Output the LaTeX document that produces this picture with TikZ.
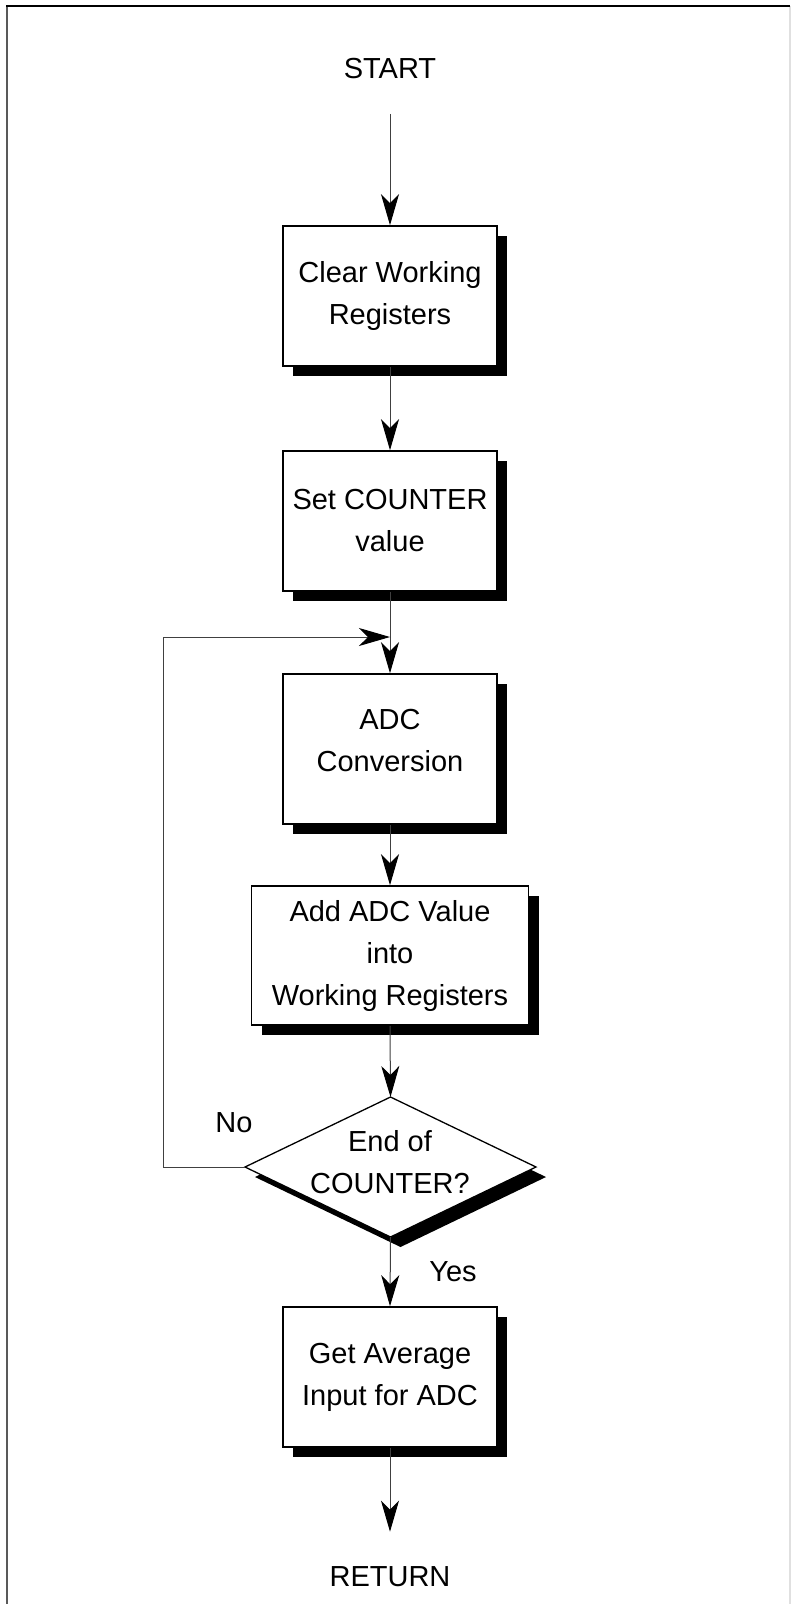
\documentclass[tikz,border=0pt]{standalone}
\usepackage{fontspec}
\setmainfont{Liberation Sans}
\usetikzlibrary{arrows.meta,shapes.geometric,shadows}
\begin{document}
\begin{tikzpicture}[x=1pt,y=-1pt,
  every node/.style={font=\fontsize{29}{42}\selectfont},
  boxshade/.style={drop shadow={shadow xshift=10pt, shadow yshift=-10pt, fill=black, opacity=1}},
  procbox/.style={draw=black, line width=1.6pt, fill=white, boxshade,
    minimum width=214pt, minimum height=140pt, inner sep=0pt, align=center},
  decision/.style={shape=diamond, draw=black, line width=1.3pt, fill=white, boxshade,
    minimum width=291pt, minimum height=140pt, inner sep=0pt, outer sep=0pt},
  lbl/.style={inner sep=0pt, align=center},
  flow/.style={draw=black!75, line width=1pt,
    -{Stealth[length=31pt, width=18pt, inset=9pt, black]}},
  plain/.style={draw=black!75, line width=1pt}
]
\useasboundingbox (0,0) rectangle (791,1604);

% page frame
\draw[black!65, line width=2pt] (7,5) -- (7,1604);
\draw[black!12, line width=1.5pt] (790,6) -- (790,1604);
\draw[black, line width=2pt] (6,6) -- (790,6);

% terminals
\node[lbl] (start) at (390,68.5) {START};
\node[lbl] (ret) at (390,1577) {RETURN};

% process steps
\node[procbox] (clear) at (390,296) {Clear Working\\Registers};
\node[procbox] (setc) at (390,521) {Set COUNTER\\value};
\node[procbox, minimum height=150pt] (adc) at (390,749) {};
\node[lbl] (adctxt) at (390,741) {ADC\\Conversion};
\node[procbox, minimum width=277pt, minimum height=139pt] (addv) at (390,955.5)
  {Add ADC Value\\into\\Working Registers};

% decision
\node[decision] (dec) at (390.5,1167) {};
\node[lbl] (dectxt) at (390,1162.5) {End of\\COUNTER?};
\node[lbl] (no) at (234,1123) {No};
\node[lbl] (yes) at (453,1272) {Yes};

\node[procbox] (avg) at (390,1377) {Get Average\\Input for ADC};

% junction of the loop back
\coordinate (merge) at (390,637);
\coordinate (loopleft) at (163,637);

% connectors
\draw[flow, shorten <=35pt] (start.south) -- (clear.north);
\draw[flow] (clear.south) -- (setc.north);
\draw[plain] (setc.south) -- (merge);
\draw[flow] (merge) -- (adc.north);
\draw[flow] (adc.south) -- (addv.north);
\draw[flow] (addv.south) -- (dec.north);
\draw[flow] (dec.south) -- (avg.north);
\draw[flow, shorten >=35pt] (avg.south) -- (ret.north);
\draw[flow] (dec.west) -- (dec.west -| loopleft) |- (merge);
\end{tikzpicture}
\end{document}
